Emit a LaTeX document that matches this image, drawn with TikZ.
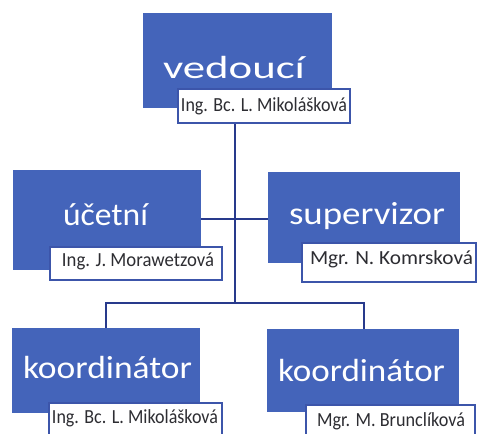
\documentclass[tikz,border=0pt]{standalone}
\usepackage{graphicx}
\usepackage{fontspec}
\setmainfont{Carlito}
\definecolor{boxblue}{RGB}{68,100,186}
\definecolor{linenavy}{RGB}{40,58,140}
\definecolor{nameedge}{RGB}{60,85,170}
\definecolor{nametext}{RGB}{45,45,50}
\newcommand{\ttl}[2]{\resizebox{#1pt}{\height}{\fontsize{32}{32}\selectfont #2}}
\newcommand{\nm}[2]{\resizebox{#1pt}{\height}{\fontsize{20}{20}\selectfont #2}}
\tikzset{
  bluebox/.style={draw=none, fill=boxblue, inner sep=0pt},
  namebox/.style={draw=nameedge, line width=1.5pt, fill=white, inner sep=0pt},
  titletext/.style={text=white, inner sep=0pt, anchor=base},
  nametext/.style={text=nametext, inner sep=0pt, anchor=base},
  conn/.style={draw=linenavy, line width=2pt}
}
\begin{document}
\begin{tikzpicture}[x=1pt,y=-1pt]
\clip (0,0) rectangle (477,434);
\fill[white] (0,0) rectangle (477,434);
% connector points
\coordinate (top) at (235,123);
\coordinate (bot) at (235,303);
\coordinate (bl) at (106,303);
\coordinate (br) at (364,303);
% boxes
\path[bluebox] (143,13) rectangle (332,108) node[midway] (vbox) {};
\path[bluebox] (13,170) rectangle (201,270) node[midway] (ubox) {};
\path[bluebox] (268,172) rectangle (460,263) node[midway] (sbox) {};
\path[bluebox] (12,328) rectangle (200,413) node[midway] (klbox) {};
\path[bluebox] (267,329) rectangle (459,412) node[midway] (krbox) {};
\coordinate (ubr) at (201,219);
\coordinate (sbl) at (268,219);
\coordinate (klt) at (106,328);
\coordinate (krt) at (364,329);
\draw[conn] (top) -- (bot);
\draw[conn] (ubr) -- (sbl);
\draw[conn, line join=miter] (klt) -- (bl) -- (br) -- (krt);
% name boxes
\path[namebox] (178,89) rectangle (350,123) node[midway] (vname) {};
\path[namebox] (50,247) rectangle (222,280) node[midway] (uname) {};
\path[namebox] (302,243) rectangle (476,282) node[midway] (sname) {};
\path[namebox] (49,403) rectangle (222,440) node[midway] (klname) {};
\path[namebox] (306,405) rectangle (475,440) node[midway] (krname) {};
% titles
\node[titletext] (vt) at (234,78) {\ttl{142}{vedoucí}};
\node[titletext] (ut) at (105.5,225) {\ttl{85}{účetní}};
\node[titletext] (st) at (367,224) {\ttl{156}{supervizor}};
\node[titletext] (klt2) at (107.5,378) {\ttl{169}{koordinátor}};
\node[titletext] (krt2) at (361.5,381) {\ttl{167}{koordinátor}};
% names
\node[nametext] (vn) at (264,111) {\nm{166}{Ing. Bc. L. Mikolášková}};
\node[nametext] (un) at (138,266) {\nm{152}{Ing. J. Morawetzová}};
\node[nametext] (sn) at (391.5,264) {\nm{163}{Mgr. N. Komrsková}};
\node[nametext] (kln) at (135,423) {\nm{166}{Ing. Bc. L. Mikolášková}};
\node[nametext] (krn) at (391,426) {\nm{148}{Mgr. M. Brunclíková}};
\end{tikzpicture}
\end{document}
